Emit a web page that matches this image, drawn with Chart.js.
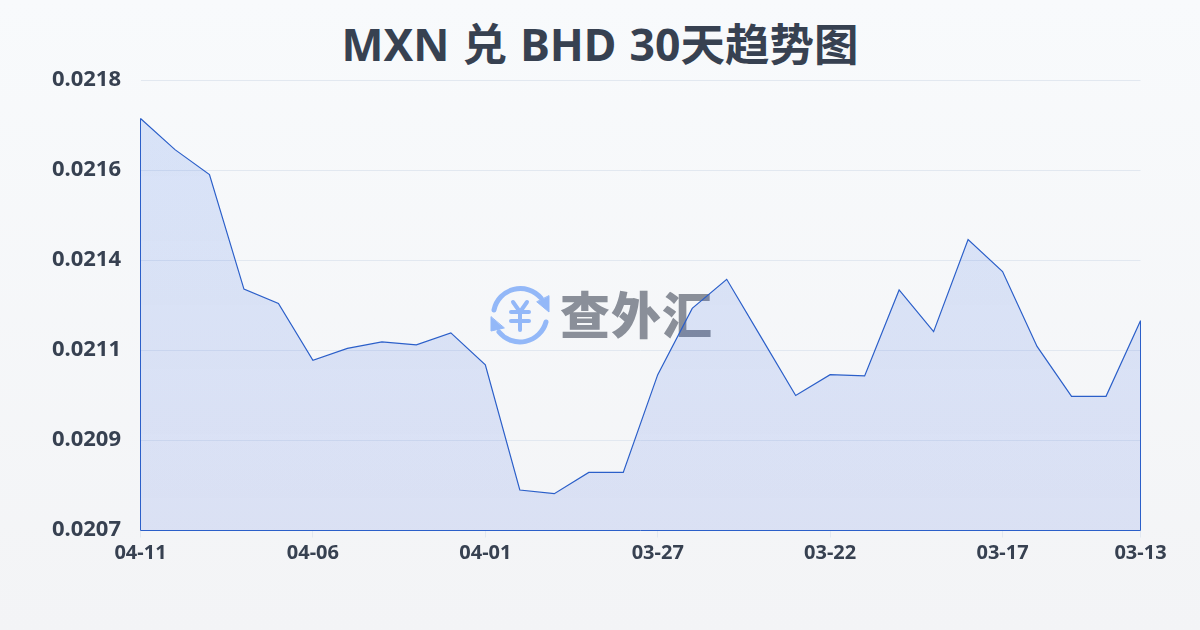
<!DOCTYPE html>
<html>
<head>
<meta charset="utf-8">
<script src="https://cdn.jsdelivr.net/npm/chart.js@4/dist/chart.umd.min.js"></script>
<style>
  html, body { margin: 0; padding: 0; }
  body { width: 1200px; height: 630px; overflow: hidden; position: relative;
         background: linear-gradient(180deg, #f8fafc 0%, #f3f4f6 100%); }
  #title { position: absolute; left: 0; top: 16px; width: 1200px; text-align: center; color: #374151;
           font: bold 44.5px "Noto Sans", "Noto Sans CJK SC", sans-serif; line-height: 56px; word-spacing: 1.5px; }
  #logo { position: absolute; left: 485px; top: 280px; }
  #logoText { position: absolute; left: 560px; top: 277px; white-space: nowrap;
              font: 900 50px "Noto Sans CJK SC"; line-height: 70px; color: #8a8f99; letter-spacing: 1px; }
  #myChart { position: absolute; left: 0; top: 0; }
</style>
</head>
<body>
<svg id="logo" width="70" height="70" viewBox="485 280 70 70" fill="none" stroke="#93b8f8" stroke-linecap="round" stroke-linejoin="round">
  <path d="M494 310 A27 27 0 0 1 541 298" stroke-width="5"/>
  <path d="M546 322 A27 27 0 0 1 499 332" stroke-width="5"/>
  <path d="M549 296 L549 312 L537 302 Z" fill="#93b8f8" stroke-width="1"/>
  <path d="M491 317 L491 331 L504 328 Z" fill="#93b8f8" stroke-width="1"/>
  <path d="M513 302 L520 312 L527 302 M511 312 L529 312 M511 321 L529 321 M520 312 L520 330" stroke-width="4"/>
</svg>
<div id="logoText">查外汇</div>
<div id="title">MXN 兑 BHD 30天趋势图</div>
<canvas id="myChart" width="1200" height="630"></canvas>
<script>
const dates = ['04-11','04-10','04-09','04-08','04-07','04-06','04-05','04-04','04-03','04-02',
  '04-01','03-31','03-30','03-29','03-28','03-27','03-26','03-25','03-24','03-23',
  '03-22','03-21','03-20','03-19','03-18','03-17','03-16','03-15','03-14','03-13'];
const rates = [0.021707,0.021631,0.021570,0.021290,0.021255,0.021116,0.021145,0.021161,0.021154,0.021183,
  0.021105,0.020799,0.020790,0.020842,0.020842,0.021081,0.021243,0.021314,0.021172,0.021030,
  0.021081,0.021078,0.021288,0.021186,0.021411,0.021333,0.021150,0.021028,0.021028,0.021213];
const yTicks = [0.0207,0.02092,0.02114,0.02136,0.02158,0.0218];
const xTickLabels = ['04-11','04-06','04-01','03-27','03-22','03-17','03-13'];

const ctx = document.querySelector('#myChart').getContext('2d');
const font = '"Noto Sans", "Noto Sans CJK SC", sans-serif';
const lineColor = '#2b5fc9';
// fill gradient
let gradient = ctx.createLinearGradient(0, 80, 0, 530);
gradient.addColorStop(0, 'rgba(37,99,235,0.15)');
gradient.addColorStop(1, 'rgba(37,80,220,0.12)');

// the area outline also runs down both sides and along the bottom
const closeArea = {
  id: 'closeArea',
  afterDatasetsDraw(chart) {
    const { x, y } = chart.scales;
    const c = chart.ctx;
    const left = x.getPixelForValue(0);
    const right = x.getPixelForValue(rates.length - 1);
    c.save();
    c.strokeStyle = lineColor;
    c.lineWidth = 1;
    c.beginPath();
    c.moveTo(left, y.getPixelForValue(rates[0]));
    c.lineTo(left, y.bottom);
    c.lineTo(right, y.bottom);
    c.lineTo(right, y.getPixelForValue(rates[rates.length - 1]));
    c.stroke();
    c.restore();
  }
};

new Chart(ctx, {
  type: 'line',
  data: {
    labels: dates,
    datasets: [{
      data: rates,
      fill: true,
      backgroundColor: gradient,
      borderColor: lineColor,
      borderWidth: 1.2,
      pointRadius: 0,
      tension: 0,
    }]
  },
  options: {
    responsive: false,
    animation: false,
    // half pixels keep the axis lines crisp
    layout: { padding: { top: 80.5, right: 59.5, bottom: 0, left: 0 } },
    plugins: {
      legend: { display: false },
      tooltip: { enabled: false },
    },
    scales: {
      x: {
        offset: false,
        afterFit: (axis) => { axis.height = 99.5; },
        afterBuildTicks: (axis) => {
          axis.ticks = axis.ticks.filter((t) => xTickLabels.includes(dates[t.value]));
        },
        grid: { drawOnChartArea: false, drawTicks: true, tickLength: 7, tickColor: '#e2e8f0' },
        border: { display: false },
        ticks: {
          autoSkip: false, maxRotation: 0, padding: 4,
          color: '#374151',
          font: { family: font, size: 20, weight: 'bold' },
        },
      },
      y: {
        min: yTicks[0],
        max: yTicks[yTicks.length - 1],
        afterFit: (axis) => { axis.width = 140.5; },
        afterBuildTicks: (axis) => { axis.ticks = yTicks.map((value) => ({ value })); },
        grid: { color: '#e2e8f0', lineWidth: 1, drawTicks: false },
        border: { display: false },
        ticks: {
          padding: 19.5,
          labelOffset: -0.5,
          color: '#374151',
          font: { family: font, size: 22, weight: 'bold' },
          callback: (value) => value.toFixed(4),
        },
      },
    },
  },
  plugins: [closeArea],
});
</script>
</body>
</html>
